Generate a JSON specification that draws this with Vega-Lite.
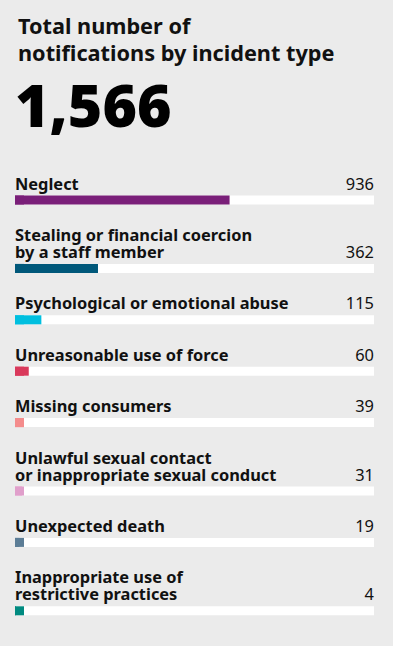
{
  "$schema": "https://vega.github.io/schema/vega-lite/v6.json",
  "background": "#ebebeb",
  "padding": {"left": 15, "right": 19, "top": 16, "bottom": 30},
  "title": {
    "text": ["Total number of", "notifications by incident type"],
    "anchor": "start",
    "font": "Noto Sans",
    "fontSize": 21.7,
    "fontWeight": "bold",
    "lineHeight": 27,
    "color": "#111111",
    "offset": 14,
    "dx": 3
  },
  "data": {"values": [
    {"type": "Neglect", "count": 936},
    {"type": "Stealing or financial coercion\nby a staff member", "count": 362},
    {"type": "Psychological or emotional abuse", "count": 115},
    {"type": "Unreasonable use of force", "count": 60},
    {"type": "Missing consumers", "count": 39},
    {"type": "Unlawful sexual contact\nor inappropriate sexual conduct", "count": 31},
    {"type": "Unexpected death", "count": 19},
    {"type": "Inappropriate use of\nrestrictive practices", "count": 4}
  ]},
  "transform": [
    {"joinaggregate": [{"op": "sum", "field": "count", "as": "total"}]},
    {"calculate": "indexof(datum.type, '\\n') >= 0 ? split(datum.type, '\\n')[0] : ''", "as": "line1"},
    {"calculate": "indexof(datum.type, '\\n') >= 0 ? split(datum.type, '\\n')[1] : datum.type", "as": "line2"}
  ],
  "spacing": 23.5,
  "resolve": {"scale": {"x": "shared", "y": "independent"}},
  "vconcat": [
    {
      "width": 359,
      "height": 53,
      "transform": [{"aggregate": [{"op": "sum", "field": "count", "as": "sum"}]}],
      "mark": {"type": "text", "align": "left", "baseline": "alphabetic", "fontSize": 59, "fontWeight": 900, "color": "#000000"},
      "encoding": {
        "x": {"datum": 0, "type": "quantitative", "axis": null},
        "text": {"field": "sum", "type": "quantitative", "format": ","}
      }
    },
    {
      "facet": {"row": {"field": "type", "header": null, "sort": {"field": "count", "op": "sum", "order": "descending"}}},
      "spacing": 23.4,
      "align": "each",
      "resolve": {"scale": {"y": "independent"}},
      "spec": {
        "width": 359,
        "height": 9,
        "encoding": {"y": {"field": "type", "type": "nominal", "axis": null, "scale": {"paddingInner": 0, "paddingOuter": 0}}},
        "layer": [
          {"mark": {"type": "bar", "color": "#ffffff"}, "encoding": {"x": {"field": "total", "type": "quantitative", "axis": null, "scale": {"nice": false, "zero": true}}}},
          {"mark": {"type": "bar"}, "encoding": {
            "x": {"field": "count", "type": "quantitative"},
            "color": {"field": "type", "type": "nominal", "legend": null, "scale": {
              "domain": ["Neglect", "Stealing or financial coercion\nby a staff member", "Psychological or emotional abuse", "Unreasonable use of force", "Missing consumers", "Unlawful sexual contact\nor inappropriate sexual conduct", "Unexpected death", "Inappropriate use of\nrestrictive practices"],
              "range": ["#7a1f79", "#00587a", "#00bfdf", "#d9395b", "#f48c8c", "#e09fcb", "#5c7d96", "#008a80"]}}
          }},
          {"mark": {"type": "tick", "thickness": 9, "size": 9, "xOffset": 4.5, "opacity": 1}, "encoding": {
            "x": {"datum": 0, "type": "quantitative"},
            "color": {"field": "type", "type": "nominal", "legend": null}
          }},
          {"transform": [{"filter": "datum.line1 !== ''"}],
           "mark": {"type": "text", "align": "left", "baseline": "bottom", "dy": -24.5, "fontSize": 16.4, "fontWeight": "bold", "color": "#111111"}, "encoding": {
            "x": {"datum": 0, "type": "quantitative"},
            "text": {"field": "line1"}
          }},
          {"mark": {"type": "text", "align": "left", "baseline": "bottom", "dy": -7.5, "fontSize": 16.4, "fontWeight": "bold", "color": "#111111"}, "encoding": {
            "x": {"datum": 0, "type": "quantitative"},
            "text": {"field": "line2"}
          }},
          {"mark": {"type": "text", "align": "right", "baseline": "bottom", "dy": -7.5, "fontSize": 16.4, "color": "#111111"}, "encoding": {
            "x": {"field": "total", "type": "quantitative"},
            "text": {"field": "count", "type": "quantitative"}
          }}
        ]
      }
    }
  ],
  "config": {"view": {"stroke": null}, "font": "Noto Sans"}
}
